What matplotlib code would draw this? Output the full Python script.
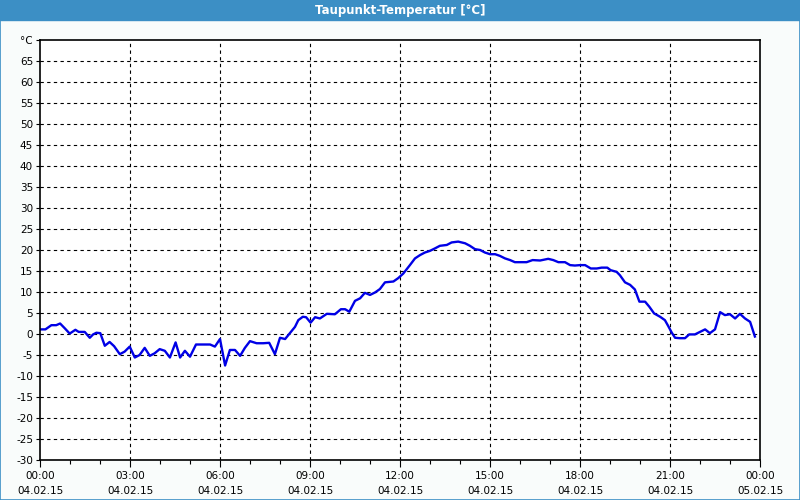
import matplotlib
matplotlib.use('Agg')
import matplotlib.pyplot as plt
from matplotlib.patches import Rectangle

# Zeit in Stunden ab 04.02.15 00:00
stunden = [0.02, 0.18, 0.38, 0.54, 0.67, 0.82, 0.99, 1.18, 1.29, 1.49, 1.66, 1.77, 1.88, 2.01,
           2.16, 2.32, 2.47, 2.66, 2.82, 2.99, 3.16, 3.32, 3.49, 3.66, 3.82, 3.99, 4.16, 4.33,
           4.52, 4.67, 4.83, 5.0, 5.2, 5.44, 5.67, 5.83, 6.0, 6.17, 6.33, 6.5, 6.67, 6.83,
           7.0, 7.22, 7.44, 7.64, 7.83, 8.0, 8.17, 8.33, 8.5, 8.61, 8.76, 8.87, 9.02, 9.17,
           9.33, 9.56, 9.83, 10.03, 10.17, 10.31, 10.5, 10.67, 10.83, 11.0, 11.17, 11.33, 11.5,
           11.78, 11.94, 12.11, 12.33, 12.5, 12.67, 12.83, 13.0, 13.17, 13.33, 13.56, 13.72,
           13.94, 14.17, 14.33, 14.5, 14.67, 14.83, 15.0, 15.17, 15.33, 15.5, 15.67, 15.83,
           16.0, 16.22, 16.42, 16.67, 16.94, 17.11, 17.28, 17.5, 17.67, 17.83, 18.0, 18.17,
           18.36, 18.56, 18.72, 18.91, 19.02, 19.22, 19.33, 19.5, 19.67, 19.83, 19.98, 20.17,
           20.31, 20.47, 20.67, 20.83, 20.94, 21.06, 21.17, 21.33, 21.5, 21.64, 21.83, 22.0,
           22.17, 22.33, 22.5, 22.67, 22.83, 23.0, 23.17, 23.33, 23.5, 23.67, 23.83]

taupunkt = [1.1, 1.1, 2.1, 2.1, 2.5, 1.4, 0.1, 1.0, 0.5, 0.5, -0.9, -0.1, 0.3, 0.2,
            -2.8, -1.9, -2.9, -4.8, -4.2, -3.0, -5.6, -5.0, -3.3, -5.2, -4.6, -3.6, -4.0, -5.6,
            -2.0, -5.6, -4.0, -5.4, -2.5, -2.5, -2.5, -3.0, -1.2, -7.5, -3.8, -3.8, -5.2, -3.3,
            -1.7, -2.2, -2.2, -2.1, -4.8, -0.9, -1.2, 0.2, 1.7, 3.3, 4.1, 4.0, 2.7, 4.0,
            3.7, 4.8, 4.7, 5.9, 5.9, 5.3, 7.9, 8.5, 9.8, 9.3, 9.9, 10.7, 12.3,
            12.5, 13.3, 14.4, 16.4, 18.0, 18.8, 19.4, 19.8, 20.4, 21.0, 21.2, 21.8,
            22.0, 21.6, 21.0, 20.2, 20.0, 19.4, 19.0, 19.0, 18.6, 18.0, 17.6, 17.1,
            17.1, 17.1, 17.6, 17.5, 17.9, 17.6, 17.1, 17.1, 16.4, 16.3, 16.4, 16.4,
            15.6, 15.6, 15.8, 15.8, 15.2, 14.8, 14.0, 12.3, 11.7, 10.6, 7.7, 7.7,
            6.5, 4.9, 4.1, 3.3, 1.9, 0.3, -0.9, -1.0, -1.0, -0.1, -0.1, 0.5,
            1.1, 0.2, 1.1, 5.2, 4.5, 4.7, 3.7, 4.8, 3.7, 2.9, -0.6]

x_ticks = [0, 3, 6, 9, 12, 15, 18, 21, 24]
x_labels = ['00:00\n04.02.15', '03:00\n04.02.15', '06:00\n04.02.15', '09:00\n04.02.15',
            '12:00\n04.02.15', '15:00\n04.02.15', '18:00\n04.02.15', '21:00\n04.02.15',
            '00:00\n05.02.15']
y_ticks = list(range(-30, 75, 5))
y_labels = [str(v) for v in y_ticks[:-1]] + ['°C']

blau = '#3c8fc5'

fig = plt.figure(figsize=(8, 5), dpi=100)
fig.patch.set_facecolor('#f9fcfb')

# Titelleiste und Rahmen
fig.add_artist(Rectangle((0, 0.96), 1, 0.04, transform=fig.transFigure, color=blau, zorder=0))
fig.add_artist(Rectangle((0.0006, 0.001), 0.9988, 0.998, transform=fig.transFigure,
                         fill=False, edgecolor=blau, linewidth=1.2, zorder=0))
fig.text(0.5, 0.979, 'Taupunkt-Temperatur [°C]', color='white', fontsize=8.5,
         fontweight='bold', ha='center', va='center')

ax = fig.add_axes([0.05, 0.08, 0.9, 0.84])
ax.set_facecolor('white')
ax.plot(stunden, taupunkt, color='#0000e6', linewidth=1.7)

ax.set_xlim(0, 24)
ax.set_ylim(-30, 70)
ax.set_xticks(x_ticks)
ax.set_xticklabels(x_labels, fontsize=7.5, linespacing=1.55)
ax.set_xticks(range(0, 25), minor=True)
ax.set_yticks(y_ticks)
ax.set_yticklabels(y_labels, fontsize=7.5)

ax.tick_params(axis='x', which='major', length=5, width=0.8, pad=3)
ax.tick_params(axis='x', which='minor', length=3, width=0.8)
ax.tick_params(axis='y', length=3, width=0.8, pad=2)

# Gitternetz gestrichelt
for h in x_ticks[1:-1]:
    ax.axvline(h, color='black', linestyle=(0, (3, 3)), linewidth=0.8, zorder=1)
for v in y_ticks[1:-1]:
    ax.axhline(v, color='black', linestyle=(0, (3, 3)), linewidth=0.8, zorder=1)

for s in ax.spines.values():
    s.set_linewidth(1.2)

fig.savefig('out.png', dpi=100, facecolor=fig.get_facecolor())
